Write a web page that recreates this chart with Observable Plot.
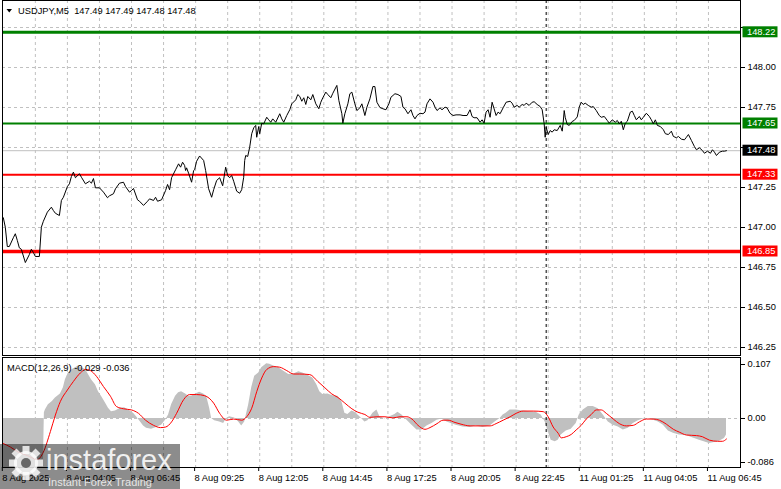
<!DOCTYPE html>
<html><head><meta charset="utf-8">
<script src="https://cdn.jsdelivr.net/npm/d3@7"></script>
<script src="https://cdn.jsdelivr.net/npm/@observablehq/plot@0.6"></script>
<style>
html,body{margin:0;padding:0;background:#fff;}
#chart{position:relative;width:781px;height:489px;overflow:hidden;background:#fff;}
#chart svg{position:absolute;left:0;top:0;}
</style></head><body><div id="chart"></div>
<script>
// ---------- data ----------
const symbol = "USDJPY,M5";
const ohlc = ["147.49", "147.49", "147.48", "147.48"];
const macdName = "MACD(12,26,9)";
const macdNow = "-0.029", signalNow = "-0.036";
const bid = 147.48;
const buyTarget = 148.22, buyEntry = 147.65, sellEntry = 147.33, sellTarget = 146.85;
const priceTicks = [148.25, 148.00, 147.75, 147.50, 147.25, 147.00, 146.75, 146.50, 146.25];
const priceLabelTicks = [148.00, 147.75, 147.25, 147.00, 146.75, 146.50, 146.25]; // 148.25 and 147.50 sit under the price boxes
const macdTicks = [0.107, 0, -0.086];
const macdTickLabels = ["0.107", "0.00", "-0.086"];
const gridBars = [16,32,48,64,80,96,112,128,144,160,176,192,208,224,240,256,272,288,304,320,336,352];
const labelBars = [0,32,64,96,128,160,192,224,256,288,320,352];
const timeLabels = ["8 Aug 2025","8 Aug 04:05","8 Aug 06:45","8 Aug 09:25","8 Aug 12:05","8 Aug 14:45","8 Aug 17:25","8 Aug 20:05","8 Aug 22:45","11 Aug 01:25","11 Aug 04:05","11 Aug 06:45"];
const sessionBreak = 271;

// [bar index, close]
const priceLine = [[0,147.061],[1,147.002],[2,146.881],[3,146.881],[5,146.936],[6,146.961],[7,146.919],[8,146.873],[9,146.864],[11,146.781],[13,146.831],[14,146.864],[15,146.844],[16,146.819],[18,146.819],[19,147.002],[20,147.039],[22,147.096],[24,147.127],[25,147.106],[26,147.089],[28,147.075],[29,147.169],[30,147.189],[32,147.256],[33,147.273],[34,147.319],[35,147.346],[36,147.311],[38,147.336],[39,147.314],[41,147.273],[43,147.289],[44,147.277],[45,147.306],[46,147.248],[48,147.248],[50,147.221],[52,147.186],[53,147.198],[55,147.211],[56,147.242],[58,147.277],[60,147.283],[61,147.256],[63,147.221],[64,147.231],[65,147.244],[67,147.173],[68,147.164],[70,147.138],[72,147.164],[73,147.179],[75,147.169],[76,147.189],[77,147.164],[79,147.173],[81,147.231],[82,147.269],[83,147.236],[84,147.311],[86,147.361],[87.5,147.398],[88.5,147.377],[89.5,147.408],[90.5,147.388],[91,147.356],[91.5,147.373],[92.5,147.339],[94,147.283],[95,147.356],[95.5,147.361],[96.5,147.414],[98,147.447],[100,147.419],[101,147.356],[102.5,147.242],[104,147.189],[105,147.236],[106.5,147.294],[108,147.311],[109.5,147.261],[111,147.377],[112,147.325],[113,147.311],[114,147.325],[115,147.289],[116.5,147.227],[118,147.214],[119,147.236],[120,147.314],[120.5,147.419],[121,147.45],[122,147.444],[123,147.502],[124,147.586],[125,147.623],[126,147.638],[126.5,147.564],[127.5,147.631],[128,147.586],[129,147.652],[130,147.648],[131.5,147.689],[132.5,147.673],[133.5,147.658],[134.5,147.679],[136,147.658],[138,147.711],[139,147.679],[140,147.658],[141.5,147.70],[143,147.736],[144,147.773],[146,147.798],[147,147.831],[148,147.819],[149,147.789],[150,147.811],[151,147.769],[152,147.819],[153.5,147.798],[154.5,147.831],[156,147.773],[157.5,147.742],[158.5,147.783],[159.5,147.811],[161,147.846],[162,147.831],[163.5,147.811],[164.5,147.839],[166.5,147.888],[167.5,147.794],[169,147.711],[169.5,147.652],[170.5,147.711],[172,147.773],[173,147.836],[174,147.846],[175.5,147.773],[176.5,147.731],[178,147.748],[179,147.773],[180.5,147.70],[181.5,147.752],[183,147.804],[184.5,147.881],[185.5,147.881],[186.5,147.783],[188,147.75],[189.5,147.742],[191,147.736],[192.5,147.773],[193.5,147.814],[195.5,147.836],[197,147.831],[198.5,147.819],[199.5,147.752],[200.5,147.742],[202,147.711],[203.5,147.736],[204.5,147.70],[205.5,147.679],[206.5,147.70],[208,147.714],[209.5,147.711],[210.5,147.721],[211.5,147.773],[213,147.804],[214.5,147.783],[215.5,147.752],[216.5,147.731],[218,147.748],[219,147.736],[220.5,147.752],[221.5,147.748],[223,147.714],[224.5,147.70],[226,147.704],[228,147.704],[229.5,147.70],[231.5,147.70],[233,147.736],[234,147.694],[235,147.686],[236.5,147.686],[238,147.658],[239,147.673],[240,147.652],[241,147.721],[242,147.736],[243,147.689],[244,147.783],[245,147.742],[246,147.70],[247,147.721],[248,147.711],[249.5,147.748],[251,147.783],[253,147.789],[254,147.777],[255,147.752],[256.5,147.763],[257.5,147.752],[259,147.769],[260,147.763],[261,147.777],[262.5,147.763],[264,147.783],[265,147.786],[266.5,147.769],[268,147.756],[269,147.736],[270,147.648],[270.5,147.564],[271,147.627],[272,147.581],[273,147.606],[274,147.596],[275,147.611],[276.5,147.606],[278,147.638],[279,147.602],[279.5,147.658],[280,147.731],[280.5,147.689],[281.5,147.644],[282.5,147.638],[284,147.663],[285,147.669],[286.5,147.691],[287.5,147.753],[288.5,147.783],[289.5,147.769],[290.5,147.777],[292,147.763],[293.5,147.752],[294.5,147.756],[296,147.731],[297.5,147.70],[298.5,147.689],[300,147.694],[301.5,147.669],[302.5,147.652],[304,147.673],[305.5,147.658],[306.5,147.669],[307.5,147.648],[308.5,147.664],[309.5,147.611],[310.5,147.652],[311.5,147.664],[313,147.721],[314,147.727],[315,147.70],[316,147.673],[317.5,147.694],[318.5,147.673],[319.5,147.689],[321,147.714],[322.5,147.694],[323.5,147.673],[324.5,147.648],[325.5,147.673],[326.5,147.638],[328,147.631],[329.5,147.611],[330.5,147.586],[332,147.581],[333.5,147.602],[334.5,147.569],[336,147.561],[337,147.569],[338.5,147.552],[340,147.548],[341,147.564],[342,147.581],[343.5,147.544],[345,147.506],[346,147.486],[347.5,147.498],[349,147.481],[350,147.464],[351.5,147.477],[353,147.464],[354,147.486],[355,147.471],[356,147.45],[357.5,147.471],[359,147.477],[360,147.477],[361,147.48]];

// [bar index, MACD main] (histogram)
const macdHist = [[0,-0.086],[20,-0.086],[20.5,0.010],[21,0.015],[22.5,0.024],[24.5,0.030],[26,0.036],[28.5,0.043],[30,0.054],[31,0.068],[32.5,0.080],[34.5,0.086],[36,0.089],[37.5,0.092],[39,0.089],[41,0.086],[42.5,0.077],[44,0.068],[46,0.059],[47.5,0.047],[49,0.039],[51,0.027],[52.5,0.018],[54,0.012],[56,0.013],[58.5,0.018],[60.5,0.019],[62.5,0.015],[65,0.009],[66.5,0.003],[68.5,-0.006],[70,-0.013],[71.5,-0.017],[74,-0.019],[76.5,-0.016],[79,-0.012],[81,-0.003],[82.5,0.006],[84,0.024],[86,0.039],[87.5,0.045],[89,0.047],[91,0.043],[92.5,0.039],[94,0.039],[95.5,0.042],[98,0.046],[100,0.043],[101.5,0.039],[103,0.018],[104,0.000],[105.5,-0.004],[108,-0.006],[110,-0.009],[111.5,0.000],[113,0.003],[115.5,0.001],[117.5,-0.006],[119,-0.013],[120.5,-0.006],[122.5,0.024],[124,0.054],[125.5,0.074],[127.5,0.080],[129,0.089],[131.5,0.096],[133,0.095],[135,0.092],[137.5,0.089],[140,0.083],[142.5,0.077],[145,0.078],[147.5,0.082],[149.5,0.080],[152,0.076],[154.5,0.071],[156.5,0.059],[158,0.047],[159.5,0.042],[162,0.043],[164.5,0.040],[167,0.039],[169,0.030],[170.5,0.009],[172,0.007],[174,0.013],[175.5,0.011],[178,0.003],[180.5,-0.006],[182,-0.004],[184.5,0.009],[186.5,0.015],[188,0.003],[190.5,-0.001],[193,0.003],[195.5,0.007],[197,0.011],[199,0.006],[201.5,-0.003],[204,-0.012],[206.5,-0.020],[209,-0.020],[211.5,-0.013],[214,-0.009],[216.5,-0.003],[219,-0.001],[221.5,-0.006],[223.5,-0.009],[226,-0.012],[229.5,-0.015],[233,-0.016],[236,-0.013],[239.5,-0.016],[243,-0.013],[245.5,-0.006],[248,0.000],[249.5,0.006],[251,0.009],[253,0.015],[256,0.015],[259.5,0.013],[263,0.012],[266,0.011],[268.5,0.006],[270.5,-0.006],[272,-0.023],[273.5,-0.038],[275.5,-0.041],[277,-0.038],[278.5,-0.029],[281,-0.022],[283.5,-0.019],[286,-0.009],[287.5,0.006],[289.5,0.015],[292,0.021],[294.5,0.021],[297,0.017],[299.5,0.006],[302,-0.006],[304.5,-0.012],[307,-0.015],[309.5,-0.020],[312,-0.017],[314.5,-0.009],[317,-0.004],[319.5,-0.001],[322,0.000],[324.5,-0.003],[327,-0.006],[329.5,-0.012],[332,-0.022],[334.5,-0.026],[337.5,-0.029],[341,-0.030],[344,-0.034],[347.5,-0.038],[351,-0.042],[352.5,-0.044],[355,-0.042],[357.5,-0.040],[360,-0.035],[361,-0.029]];

// [bar index, MACD signal]
const macdSignal = [[0,-0.044],[3.5,-0.050],[7.5,-0.059],[12,-0.065],[17,-0.072],[20,-0.059],[23.5,-0.023],[26,0.006],[28.5,0.030],[32,0.050],[35,0.065],[38.5,0.080],[41,0.086],[43.5,0.084],[46.5,0.074],[50,0.056],[53.5,0.039],[56.5,0.021],[60,0.017],[64,0.015],[67.5,0.009],[71,-0.003],[75,-0.012],[78.5,-0.016],[81,-0.015],[84,-0.006],[86.5,0.009],[90,0.033],[93,0.042],[96.5,0.042],[100.5,0.040],[105,0.027],[108,0.009],[111.5,-0.003],[115,-0.001],[119,-0.003],[121.5,0.003],[124,0.018],[126.5,0.047],[129,0.071],[131.5,0.086],[135,0.091],[138,0.090],[141.5,0.084],[145,0.078],[148,0.078],[153,0.077],[157,0.065],[160.5,0.054],[164,0.043],[167,0.037],[170.5,0.027],[174,0.017],[177,0.011],[180.5,0.007],[183,0.002],[186.5,0.003],[190.5,0.003],[194.5,0.001],[198,0.003],[201.5,0.003],[204,-0.001],[207,-0.012],[210.5,-0.019],[213,-0.016],[216.5,-0.009],[219.5,-0.003],[222,-0.003],[225.5,-0.007],[228.5,-0.010],[233,-0.013],[238,-0.013],[243,-0.013],[246,-0.009],[249.5,-0.003],[253,0.003],[256,0.009],[259.5,0.013],[264.5,0.013],[269.5,0.012],[272,0.003],[274.5,-0.015],[277,-0.026],[278.5,-0.034],[281,-0.032],[283.5,-0.028],[286,-0.020],[288.5,-0.012],[291,-0.001],[293.5,0.007],[296,0.015],[298.5,0.015],[301,0.009],[304.5,-0.001],[307.5,-0.009],[311,-0.013],[314.5,-0.012],[317.5,-0.006],[321,-0.001],[324.5,-0.001],[327.5,-0.003],[331,-0.010],[334.5,-0.019],[337.5,-0.024],[341,-0.029],[346,-0.030],[349,-0.032],[352.5,-0.038],[356.5,-0.040],[359,-0.040],[361,-0.036]];

// ---------- styles ----------
const FONT = "'Liberation Sans', Arial, sans-serif";
const FS = 9.3;
const GREEN = "#008000", RED = "#ff0000", GRID = "#c0c0c0", HIST = "#c0c0c0";
const W = 781, H = 489;
const xDomain = [-0.4, 368];
const common = {
  width: W, height: H, marginLeft: 2, marginRight: 41,
  style: {background: "transparent", fontFamily: FONT, fontSize: FS + "px", color: "#000", overflow: "visible"}
};
const dash = "3,3";

const main = Plot.plot({
  ...common,
  marginTop: 0, marginBottom: 134,
  x: {domain: xDomain, axis: null},
  y: {domain: [146.2, 148.41875]},
  marks: [
    Plot.ruleY(priceTicks, {stroke: GRID, strokeDasharray: dash}),
    Plot.ruleX(gridBars, {stroke: GRID, strokeDasharray: dash}),
    Plot.ruleX([sessionBreak], {stroke: "#000", strokeDasharray: dash}),
    Plot.ruleY([bid], {stroke: GRID}),
    Plot.ruleY([buyTarget], {stroke: GREEN, strokeWidth: 3}),
    Plot.ruleY([buyEntry], {stroke: GREEN, strokeWidth: 2}),
    Plot.ruleY([sellEntry], {stroke: RED, strokeWidth: 2}),
    Plot.ruleY([sellTarget], {stroke: RED, strokeWidth: 3.5}),
    Plot.line(priceLine, {x: d => d[0], y: d => d[1], stroke: "#000", strokeWidth: 1}),
    Plot.frame({stroke: "#000"}),
    Plot.axisY(priceTicks, {anchor: "right", tickSize: 4, tickFormat: null, text: null}),
    Plot.axisY(priceLabelTicks, {anchor: "right", tickSize: 4, tickPadding: 3, tickFormat: d3.format(".2f"), fontSize: FS})
  ]
});

const macdAxis = (i, dy) => Plot.axisY([macdTicks[i]], {anchor: "right", tickSize: 4, tickPadding: 3, dy, fontSize: FS, tickFormat: () => macdTickLabels[i]});

const macd = Plot.plot({
  ...common,
  marginTop: 357, marginBottom: 22,
  x: {domain: xDomain},
  y: {domain: [-0.086, 0.107]},
  marks: [
    Plot.ruleX(gridBars, {stroke: GRID, strokeDasharray: dash}),
    Plot.ruleY([0], {stroke: GRID, strokeDasharray: dash}),
    Plot.areaY(macdHist, {x: d => d[0], y1: () => 0, y2: d => d[1], fill: HIST}),
    Plot.ruleX([sessionBreak], {stroke: "#000", strokeDasharray: dash}),
    Plot.line(macdSignal, {x: d => d[0], y: d => d[1], stroke: RED, strokeWidth: 1, curve: "monotone-x"}),
    Plot.frame({stroke: "#000"}),
    macdAxis(0, 7), macdAxis(1, 0), macdAxis(2, -5),
    Plot.axisX(labelBars, {anchor: "bottom", tickSize: 4, tickPadding: 3, textAnchor: "start", dx: -1, fontSize: FS,
      tickFormat: d => timeLabels[labelBars.indexOf(d)]})
  ]
});

const root = document.getElementById("chart");
root.appendChild(main);
root.appendChild(macd);

// ---------- overlay: titles, price boxes, watermark ----------
const ov = d3.select(root).append("svg").attr("width", W).attr("height", H)
  .style("font-family", FONT).style("font-size", FS + "px");

ov.append("polygon").attr("points", "6.5,9 12,9 9.25,12.5").attr("fill", "#000");
ov.append("text").attr("x", 18).attr("y", 14).attr("xml:space", "preserve").style("white-space", "pre")
  .attr("fill", "#000").text(symbol + "  " + ohlc.join(" "));
ov.append("text").attr("x", 7).attr("y", 371).attr("fill", "#000")
  .text(macdName + " " + macdNow + " " + signalNow);

const ys = main.scale("y");
const boxes = [
  {v: buyTarget, c: GREEN}, {v: buyEntry, c: GREEN}, {v: bid, c: "#000"},
  {v: sellEntry, c: RED}, {v: sellTarget, c: RED}
];
for (const b of boxes) {
  const cy = ys.apply(b.v);
  ov.append("rect").attr("x", 742.5).attr("y", cy - 5.5).attr("width", 35).attr("height", 11).attr("fill", b.c);
  ov.append("text").attr("x", 747).attr("y", cy).attr("dy", "0.35em").attr("fill", "#fff").text(b.v.toFixed(2));
}

// watermark
const wm = ov.append("g");
wm.append("rect").attr("x", 0).attr("y", 444).attr("width", 180).attr("height", 45).attr("fill", "rgba(0,0,0,0.45)");
const gear = wm.append("g").attr("transform", "translate(26,463)").attr("fill", "rgba(255,255,255,0.8)");
for (let k = 0; k < 8; k++) {
  gear.append("rect").attr("x", -3.5).attr("y", -17).attr("width", 7).attr("height", 8).attr("transform", `rotate(${k * 45})`);
}
gear.append("circle").attr("r", 12);
gear.append("circle").attr("r", 5).attr("fill", "rgba(90,90,90,0.9)");
wm.append("text").attr("x", 46).attr("y", 470).attr("fill", "rgba(255,255,255,0.88)")
  .style("font-size", "29px").text("instaforex");
wm.append("text").attr("x", 48).attr("y", 486).attr("fill", "rgba(255,255,255,0.8)")
  .style("font-size", "11px").text("Instant Forex Trading");
</script>
</body></html>
